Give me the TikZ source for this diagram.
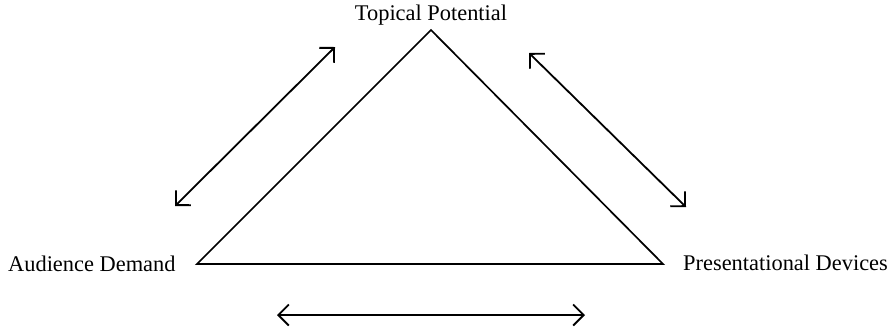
\documentclass[tikz,border=0pt]{standalone}
\usepackage{fontspec}
\setmainfont{Liberation Serif}
\usetikzlibrary{arrows.meta}
\begin{document}
\begin{tikzpicture}[x=1bp,y=-1bp,
  label/.style={inner sep=0pt,font=\fontsize{22.4bp}{26bp}\selectfont},
  side/.style={line width=1.7bp,line join=miter},
  link/.style={line width=1.8bp,{Straight Barb[length=10.5bp,width=21bp,line width=1.8bp]}-{Straight Barb[length=10.5bp,width=21bp,line width=1.8bp]}}]
  \useasboundingbox (0,0) rectangle (895,327);
  % triangle corners
  \coordinate (top) at (431,30);
  \coordinate (left) at (197,264);
  \coordinate (right) at (663,264);
  \draw[side] (top) -- (left) -- (right) -- cycle;
  % corner labels
  \node[label,anchor=base] (tp) at (431,20) {Topical Potential};
  \node[label,anchor=base west] (ad) at (8,271) {Audience Demand};
  \node[label,anchor=base west] (pd) at (683,270) {Presentational Devices};
  % two-way links along each side
  \coordinate (l1) at (175,206);
  \coordinate (l2) at (335,47);
  \coordinate (r1) at (529,53);
  \coordinate (r2) at (686,207);
  \coordinate (b1) at (277,315);
  \coordinate (b2) at (585,315);
  \draw[link] (l1) -- (l2);
  \draw[link] (r1) -- (r2);
  \draw[link] (b1) -- (b2);
\end{tikzpicture}
\end{document}
